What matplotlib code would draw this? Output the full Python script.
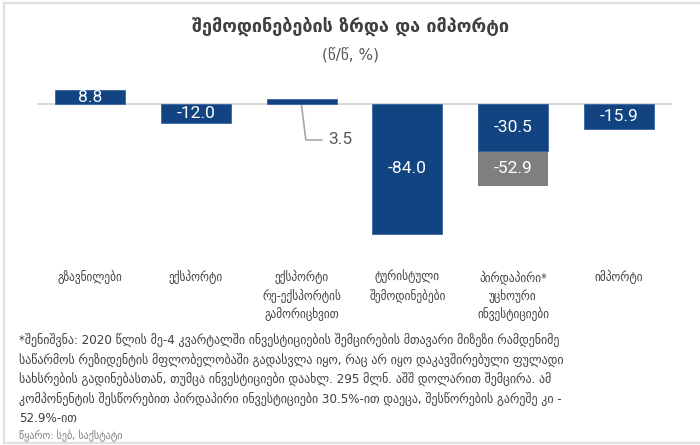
import matplotlib.pyplot as plt
from matplotlib.lines import Line2D

# inflows vs import, y/y growth (%)
categories = [
    "გზავნილები",
    "ექსპორტი",
    "ექსპორტი\nრე-ექსპორტის\nგამორიცხვით",
    "ტურისტული\nშემოდინებები",
    "პირდაპირი*\nუცხოური\nინვესტიციები",
    "იმპორტი",
]
growth = [8.8, -12.0, 3.5, -84.0, -30.5, -15.9]
fdi_unadjusted = -52.9
fdi_index = 4

title = "შემოდინებების ზრდა და იმპორტი"
subtitle = "(წ/წ, %)"
note_lines = [
    "*შენიშვნა: 2020 წლის მე-4 კვარტალში ინვესტიციების შემცირების მთავარი მიზეზი რამდენიმე",
    "საწარმოს რეზიდენტის მფლობელობაში გადასვლა იყო, რაც არ იყო დაკავშირებული ფულადი",
    "სახსრების გადინებასთან, თუმცა ინვესტიციები დაახლ. 295 მლნ. აშშ დოლარით შემცირა. ამ",
    "კომპონენტის შესწორებით პირდაპირი ინვესტიციები 30.5%-ით დაეცა, შესწორების გარეშე კი -",
    "52.9%-ით",
]
source = "წყარო: სებ, საქსტატი"

BLUE = "#124481"
GREY = "#7f7f7f"
W, H = 700, 445

fig = plt.figure(figsize=(W / 100, H / 100), dpi=100)
fig.patch.set_facecolor("white")

def fx(px):
    return px / W

def fy(py):
    return 1 - py / H

# thin frame around the panel
for xs, ys in [([4, 4], [3, 443]), ([4, 700], [3, 3]), ([4, 700], [443, 443])]:
    fig.add_artist(Line2D([fx(v) for v in xs], [fy(v) for v in ys],
                          color="#e0e0e0", lw=1.6))

fig.text(0.5, fy(26), title, ha="center", va="center", fontsize=13,
         fontweight="bold", color="#404040", family="DejaVu Sans")
fig.text(0.5, fy(56), subtitle, ha="center", va="center", fontsize=11,
         color="#595959", family="DejaVu Sans")

ax = fig.add_axes([fx(37), fy(250), fx(635), 165 / H])
ax.set_xlim(-0.5, len(categories) - 0.5)
ax.set_ylim(-94.5, 12.3)
ax.axis("off")

x = list(range(len(categories)))
bw = 0.66

ax.bar(fdi_index, fdi_unadjusted, width=bw, color=GREY, zorder=2)
ax.bar(x, growth, width=bw, color=BLUE, edgecolor="#3a63a0", linewidth=0.6, zorder=3)
ax.axhline(0, color="#d9d9d9", lw=1.5, zorder=1)

num_font = dict(family="Roboto", fontsize=12.5)
for i, v in enumerate(growth):
    if i == 2:
        continue
    ax.text(i, v / 2, f"{v:.1f}", ha="center", va="center", color="white",
            zorder=4, **num_font)
ax.text(fdi_index, (growth[fdi_index] + fdi_unadjusted) / 2, f"{fdi_unadjusted:.1f}",
        ha="center", va="center", color="white", zorder=4, **num_font)

# small bar gets an outside label with a leader line
ly = -23.3
ax.plot([2, 2.04, 2.19], [-1.1, ly, ly], color="#a6a6a6", lw=1.2, zorder=2)
ax.text(2.255, ly, f"{growth[2]:.1f}", ha="left", va="center", color="#595959",
        **num_font)

for i, lab in enumerate(categories):
    ax.text(i, -107.5, lab, ha="center", va="top", fontsize=9,
            color="#404040", family="DejaVu Sans", fontstretch="condensed",
            linespacing=1.4, clip_on=False)

note_y = [340, 359.5, 379, 398.5, 418]
for line, yy in zip(note_lines, note_y):
    fig.text(fx(19), fy(yy), line, ha="left", va="center", fontsize=9.5,
             color="#404040", family="DejaVu Sans", fontstretch="condensed")
fig.text(fx(19), fy(436), source, ha="left", va="center", fontsize=8,
         color="#7f7f7f", family="DejaVu Sans", fontstretch="condensed")

fig.savefig("out.png", dpi=100, facecolor="white")
